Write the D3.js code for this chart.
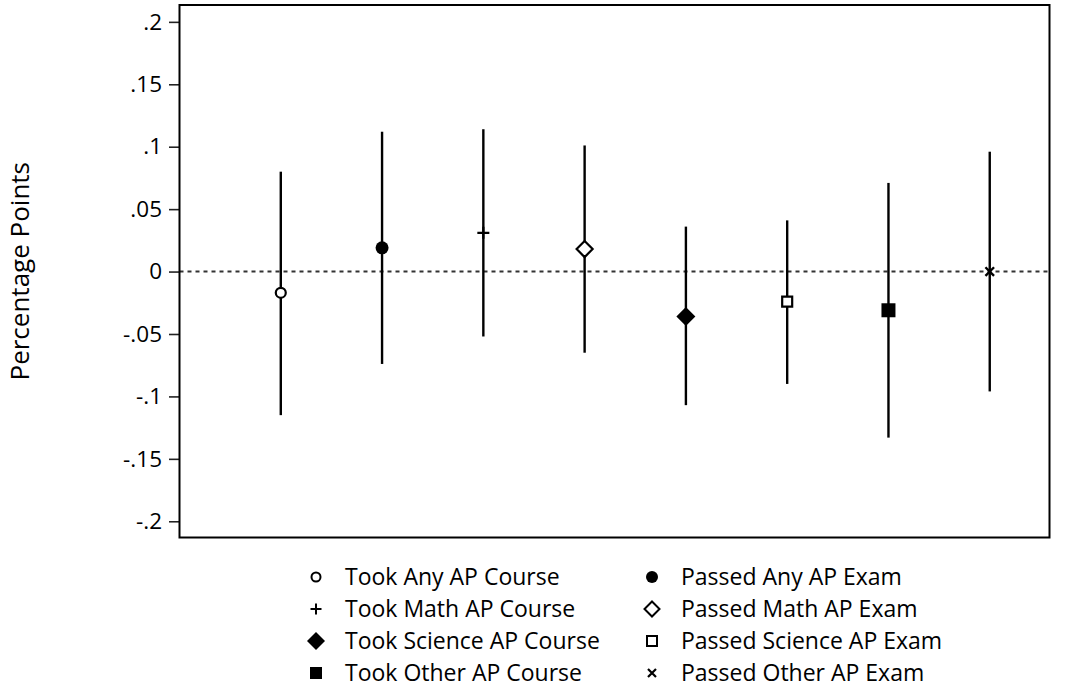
<!DOCTYPE html>
<html>
<head>
<meta charset="utf-8">
<script src="https://cdn.jsdelivr.net/npm/d3@7"></script>
<style>
  html, body { margin: 0; padding: 0; background: #fff; }
  svg { display: block; }
  text { font-family: "Open Sans", Lato, sans-serif; fill: #000; }
</style>
</head>
<body>
<svg id="chart" width="1081" height="700"></svg>
<script>
// Point estimates with 95% confidence intervals, one per outcome
const categories = [
  "Took Any AP Course", "Passed Any AP Exam",
  "Took Math AP Course", "Passed Math AP Exam",
  "Took Science AP Course", "Passed Science AP Exam",
  "Took Other AP Course", "Passed Other AP Exam"
];
const estimates = [-0.017, 0.019, 0.031, 0.018, -0.036, -0.024, -0.031, 0.000];
const ciLower   = [-0.115, -0.074, -0.052, -0.065, -0.107, -0.090, -0.133, -0.096];
const ciUpper   = [0.080, 0.112, 0.114, 0.101, 0.036, 0.041, 0.071, 0.096];
const markerTypes = [
  "circleHollow", "circleFilled", "plus", "diamondHollow",
  "diamondFilled", "squareHollow", "squareFilled", "times"
];
const yTickValues = [0.2, 0.15, 0.1, 0.05, 0, -0.05, -0.1, -0.15, -0.2];
const yTickLabels = [".2", ".15", ".1", ".05", "0", "-.05", "-.1", "-.15", "-.2"];
const yTitle = "Percentage Points";

const svg = d3.select("#chart");
const plot = { left: 179.5, right: 1049.5, top: 5, bottom: 537.5 };

const x = d3.scaleLinear().domain([0, 8.59]).range([plot.left, plot.right]);
const y = d3.scaleLinear().domain([-0.213, 0.2135]).range([plot.bottom, plot.top]);

// Marker path builders (s = half-width in px)
function markerPath(type, s) {
  const p = d3.path();
  switch (type) {
    case "circleHollow":
    case "circleFilled":
      p.moveTo(s, 0); p.arc(0, 0, s, 0, 2 * Math.PI); p.closePath(); break;
    case "diamondHollow":
    case "diamondFilled":
      p.moveTo(0, -s); p.lineTo(s, 0); p.lineTo(0, s); p.lineTo(-s, 0); p.closePath(); break;
    case "squareHollow":
    case "squareFilled":
      p.rect(-s, -s, 2 * s, 2 * s); break;
    case "plus":
      p.moveTo(-s, 0); p.lineTo(s, 0); p.moveTo(0, -s); p.lineTo(0, s); break;
    case "times":
      p.moveTo(-s, -s); p.lineTo(s, s); p.moveTo(-s, s); p.lineTo(s, -s); break;
  }
  return p.toString();
}
const plotSize = {
  circleHollow: 5, circleFilled: 6.5, plus: 6, diamondHollow: 8,
  diamondFilled: 9.5, squareHollow: 5, squareFilled: 7, times: 4.3
};
const legendSize = {
  circleHollow: 4.5, circleFilled: 6, plus: 5.5, diamondHollow: 7.5,
  diamondFilled: 9, squareHollow: 5, squareFilled: 6, times: 4
};
function styleMarker(sel, type, sw) {
  const filled = type.endsWith("Filled");
  sel.attr("fill", filled ? "#000" : (type === "plus" || type === "times" ? "none" : "#fff"))
     .attr("stroke", "#000")
     .attr("stroke-width", filled ? 0 : sw)
     .attr("stroke-linejoin", "miter");
}

const data = categories.map((c, i) => ({
  name: c, est: estimates[i], lo: ciLower[i], hi: ciUpper[i], marker: markerTypes[i], idx: i + 1
}));

// Y axis
const yAxis = d3.axisLeft(y)
  .tickValues(yTickValues)
  .tickFormat((d, i) => yTickLabels[i])
  .tickSize(10)
  .tickPadding(7);
const gy = svg.append("g").attr("transform", `translate(${plot.left - 0.5},0)`).call(yAxis);
gy.select(".domain").remove();
gy.selectAll(".tick line").attr("stroke", "#222").attr("stroke-width", 1.6);
gy.selectAll(".tick text")
  .attr("font-family", "'Open Sans', sans-serif")
  .attr("font-size", 22.5)
  .attr("fill", "#000");

// Zero reference line
svg.append("line")
  .attr("x1", plot.left).attr("x2", plot.right)
  .attr("y1", y(0)).attr("y2", y(0))
  .attr("stroke", "#333").attr("stroke-width", 2)
  .attr("stroke-dasharray", "4,4");

// Confidence intervals
svg.append("g").selectAll("line")
  .data(data).join("line")
  .attr("x1", d => x(d.idx)).attr("x2", d => x(d.idx))
  .attr("y1", d => y(d.hi)).attr("y2", d => y(d.lo))
  .attr("stroke", "#000").attr("stroke-width", 2.4);

// Point estimates
svg.append("g").selectAll("path")
  .data(data).join("path")
  .attr("transform", d => `translate(${x(d.idx)},${y(d.est)})`)
  .attr("d", d => markerPath(d.marker, plotSize[d.marker]))
  .each(function (d) { styleMarker(d3.select(this), d.marker, d.marker === "times" ? 2.4 : 2.2); });

// Plot frame
svg.append("rect")
  .attr("x", plot.left).attr("y", plot.top)
  .attr("width", plot.right - plot.left).attr("height", plot.bottom - plot.top)
  .attr("fill", "none").attr("stroke", "#000").attr("stroke-width", 2);

// Y axis title
svg.append("text")
  .attr("transform", `translate(29,${(plot.top + plot.bottom) / 2}) rotate(-90)`)
  .attr("text-anchor", "middle")
  .attr("font-size", 26)
  .text(yTitle);

// Legend: two columns, four rows
const legendCols = [316, 652];
const legendRow0 = 577, legendRowStep = 32;
const lg = svg.append("g").selectAll("g")
  .data(data).join("g")
  .attr("transform", (d, i) => `translate(${legendCols[i % 2]},${legendRow0 + Math.floor(i / 2) * legendRowStep})`);
lg.append("path")
  .attr("d", d => markerPath(d.marker, legendSize[d.marker]))
  .each(function (d) { styleMarker(d3.select(this), d.marker, d.marker === "times" ? 2.2 : 2); });
lg.append("text")
  .attr("x", 29)
  .attr("dy", "0.35em")
  .attr("font-size", 23)
  .text(d => d.name);
</script>
</body>
</html>
